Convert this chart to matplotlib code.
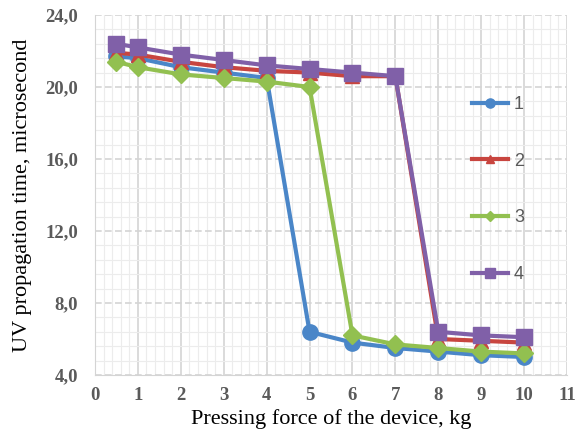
import numpy as np
import matplotlib.pyplot as plt
from matplotlib.ticker import MultipleLocator, FuncFormatter

force = [0.5, 1, 2, 3, 4, 5, 6, 7, 8, 9, 10]
series_1 = [21.7, 21.6, 21.1, 20.8, 20.5, 6.4, 5.8, 5.5, 5.3, 5.1, 5.0]
series_2 = [21.9, 21.8, 21.4, 21.1, 20.9, 20.8, 20.6, 20.6, 6.0, 5.9, 5.8]
series_3 = [21.4, 21.1, 20.7, 20.5, 20.3, 20.0, 6.2, 5.7, 5.5, 5.3, 5.2]
series_4 = [22.4, 22.2, 21.8, 21.5, 21.2, 21.0, 20.8, 20.6, 6.4, 6.2, 6.1]
labels = ["1", "2", "3", "4"]

colors = ["#4A86C8", "#C8453F", "#92C050", "#8060A8"]
markers = ["o", "^", "D", "s"]
msizes = [11, 10, 9, 12]

fig = plt.figure(figsize=(5.81, 4.38), dpi=100)
ax = fig.add_axes([95 / 581, 63 / 438, 472 / 581, 360 / 438])

for ys, lab, c, m, ms in zip([series_1, series_2, series_3, series_4], labels, colors, markers, msizes):
    ax.plot(force, ys, color=c, marker=m, markersize=ms, linewidth=3, label=lab, zorder=3)

ax.set_xlim(0, 11)
ax.set_ylim(4, 24)
ax.xaxis.set_major_locator(MultipleLocator(1))
ax.xaxis.set_minor_locator(MultipleLocator(0.2))
ax.yaxis.set_major_locator(MultipleLocator(4))
ax.yaxis.set_minor_locator(MultipleLocator(0.8))
ax.yaxis.set_major_formatter(FuncFormatter(lambda v, p: f"{v:.1f}".replace(".", ",")))

ax.grid(which="major", axis="x", color="#D4D4D4", linewidth=1.2)
ax.grid(which="major", axis="y", color="#D4D4D4", linewidth=1.2, linestyle=(0, (4, 2)))
ax.grid(which="minor", color="#ECECEC", linewidth=0.8)
ax.tick_params(which="both", length=0)
for s in ["top", "right"]:
    ax.spines[s].set_visible(False)
for s in ["left", "bottom"]:
    ax.spines[s].set_color("#D4D4D4")

for t in ax.get_xticklabels() + ax.get_yticklabels():
    t.set_fontfamily("Liberation Serif")
    t.set_fontsize(13.5)
    t.set_fontweight("bold")
    t.set_color("#5A5A5A")
ax.tick_params(axis="x", pad=9)
ax.tick_params(axis="y", pad=12)

ax.set_xlabel("Pressing force of the device, kg", fontfamily="Liberation Serif", fontsize=16, labelpad=3)
ax.set_ylabel("UV propagation time, microsecond", fontfamily="Liberation Serif", fontsize=16, labelpad=10)

leg = ax.legend(loc="upper left", bbox_to_anchor=(0.765, 0.82), frameon=False,
                labelspacing=2.2, handlelength=2.0, handletextpad=0.3, markerscale=0.6,
                prop={"family": "Liberation Sans", "size": 13})
for t in leg.get_texts():
    t.set_color("#595959")

fig.savefig("out.png", dpi=100)
